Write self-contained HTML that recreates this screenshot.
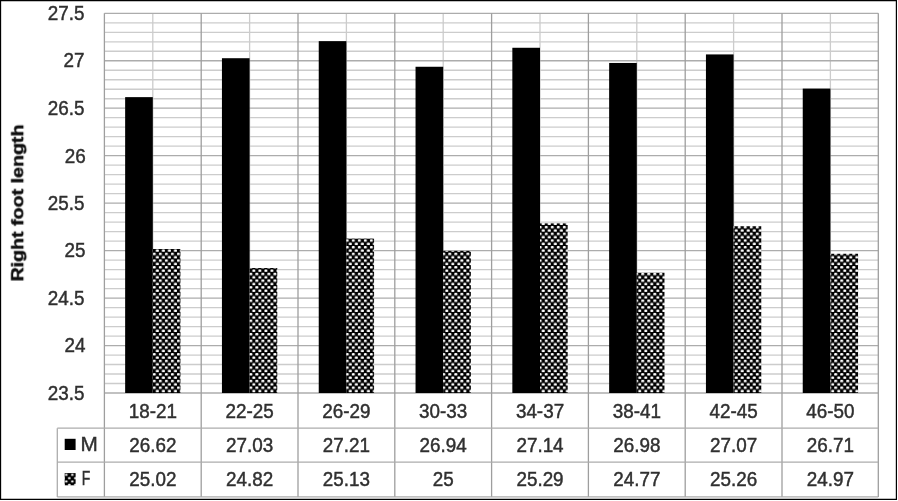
<!DOCTYPE html>
<html lang="en">
<head>
<meta charset="utf-8">
<title>Right foot length by age group</title>
<style>
html,body{margin:0;padding:0;background:#fff;}
body{width:898px;height:501px;overflow:hidden;}
svg{display:block;}
text{font-family:"Liberation Sans",sans-serif;fill:#303030;stroke:#303030;stroke-width:0.45px;}
</style>
</head>
<body>
<svg width="898" height="501" viewBox="0 0 898 501">
<defs>
<pattern id="dots" patternUnits="userSpaceOnUse" x="152.80" y="386.50" width="6.03" height="6.69">
<rect width="6.03" height="6.69" fill="#000"/>
<rect x="0.00" y="0.10" width="3.00" height="2.30" rx="0.9" ry="0.8" fill="#fff"/>
<rect x="3.015" y="3.445" width="3.00" height="2.30" rx="0.9" ry="0.8" fill="#fff"/>
</pattern>
<pattern id="dotsL" patternUnits="userSpaceOnUse" x="64.80" y="473.60" width="6.03" height="6.69">
<rect width="6.03" height="6.69" fill="#000"/>
<rect x="0.20" y="0.25" width="2.60" height="2.00" rx="0.9" ry="0.8" fill="#fff"/>
<rect x="3.215" y="3.595" width="2.60" height="2.00" rx="0.9" ry="0.8" fill="#fff"/>
</pattern>
<filter id="soft" x="0" y="0" width="898" height="501" filterUnits="userSpaceOnUse"><feGaussianBlur stdDeviation="0.5"/></filter>
</defs>
<rect x="0" y="0" width="898" height="501" fill="#fff"/>
<path d="M0 0H897V499.9H0Z M1.15 1.15V498.75H895.8V1.15Z" fill="#000" fill-rule="evenodd"/>
<g filter="url(#soft)">
<g stroke="#cccccc" stroke-width="1.3" fill="none">
<line x1="104.40" y1="22.79" x2="878.30" y2="22.79"/>
<line x1="104.40" y1="32.28" x2="878.30" y2="32.28"/>
<line x1="104.40" y1="41.78" x2="878.30" y2="41.78"/>
<line x1="104.40" y1="51.27" x2="878.30" y2="51.27"/>
<line x1="104.40" y1="70.25" x2="878.30" y2="70.25"/>
<line x1="104.40" y1="79.75" x2="878.30" y2="79.75"/>
<line x1="104.40" y1="89.24" x2="878.30" y2="89.24"/>
<line x1="104.40" y1="98.73" x2="878.30" y2="98.73"/>
<line x1="104.40" y1="117.72" x2="878.30" y2="117.72"/>
<line x1="104.40" y1="127.21" x2="878.30" y2="127.21"/>
<line x1="104.40" y1="136.70" x2="878.30" y2="136.70"/>
<line x1="104.40" y1="146.20" x2="878.30" y2="146.20"/>
<line x1="104.40" y1="165.18" x2="878.30" y2="165.18"/>
<line x1="104.40" y1="174.67" x2="878.30" y2="174.67"/>
<line x1="104.40" y1="184.16" x2="878.30" y2="184.16"/>
<line x1="104.40" y1="193.66" x2="878.30" y2="193.66"/>
<line x1="104.40" y1="212.64" x2="878.30" y2="212.64"/>
<line x1="104.40" y1="222.13" x2="878.30" y2="222.13"/>
<line x1="104.40" y1="231.63" x2="878.30" y2="231.63"/>
<line x1="104.40" y1="241.12" x2="878.30" y2="241.12"/>
<line x1="104.40" y1="260.10" x2="878.30" y2="260.10"/>
<line x1="104.40" y1="269.60" x2="878.30" y2="269.60"/>
<line x1="104.40" y1="279.09" x2="878.30" y2="279.09"/>
<line x1="104.40" y1="288.58" x2="878.30" y2="288.58"/>
<line x1="104.40" y1="307.57" x2="878.30" y2="307.57"/>
<line x1="104.40" y1="317.06" x2="878.30" y2="317.06"/>
<line x1="104.40" y1="326.55" x2="878.30" y2="326.55"/>
<line x1="104.40" y1="336.05" x2="878.30" y2="336.05"/>
<line x1="104.40" y1="355.03" x2="878.30" y2="355.03"/>
<line x1="104.40" y1="364.52" x2="878.30" y2="364.52"/>
<line x1="104.40" y1="374.02" x2="878.30" y2="374.02"/>
<line x1="104.40" y1="383.51" x2="878.30" y2="383.51"/>
<line x1="152.80" y1="13.30" x2="152.80" y2="393.00"/>
<line x1="249.60" y1="13.30" x2="249.60" y2="393.00"/>
<line x1="346.40" y1="13.30" x2="346.40" y2="393.00"/>
<line x1="443.20" y1="13.30" x2="443.20" y2="393.00"/>
<line x1="540.00" y1="13.30" x2="540.00" y2="393.00"/>
<line x1="636.80" y1="13.30" x2="636.80" y2="393.00"/>
<line x1="733.60" y1="13.30" x2="733.60" y2="393.00"/>
<line x1="830.40" y1="13.30" x2="830.40" y2="393.00"/>
</g>
<g stroke="#acacac" stroke-width="1.3" fill="none">
<line x1="104.40" y1="13.30" x2="878.30" y2="13.30"/>
<line x1="104.40" y1="60.76" x2="878.30" y2="60.76"/>
<line x1="104.40" y1="108.22" x2="878.30" y2="108.22"/>
<line x1="104.40" y1="155.69" x2="878.30" y2="155.69"/>
<line x1="104.40" y1="203.15" x2="878.30" y2="203.15"/>
<line x1="104.40" y1="250.61" x2="878.30" y2="250.61"/>
<line x1="104.40" y1="298.07" x2="878.30" y2="298.07"/>
<line x1="104.40" y1="345.54" x2="878.30" y2="345.54"/>
<line x1="104.40" y1="393.00" x2="878.30" y2="393.00"/>
<line x1="104.40" y1="13.30" x2="104.40" y2="496.90" stroke="#9e9e9e"/>
<line x1="201.20" y1="13.30" x2="201.20" y2="496.90" stroke="#9e9e9e"/>
<line x1="298.00" y1="13.30" x2="298.00" y2="496.90" stroke="#9e9e9e"/>
<line x1="394.80" y1="13.30" x2="394.80" y2="496.90" stroke="#9e9e9e"/>
<line x1="491.60" y1="13.30" x2="491.60" y2="496.90" stroke="#9e9e9e"/>
<line x1="588.40" y1="13.30" x2="588.40" y2="496.90" stroke="#9e9e9e"/>
<line x1="685.20" y1="13.30" x2="685.20" y2="496.90" stroke="#9e9e9e"/>
<line x1="782.00" y1="13.30" x2="782.00" y2="496.90" stroke="#9e9e9e"/>
<line x1="878.30" y1="13.30" x2="878.30" y2="496.90" stroke="#9e9e9e"/>
<line x1="57.30" y1="428.20" x2="878.30" y2="428.20"/>
<line x1="57.30" y1="462.20" x2="878.30" y2="462.20"/>
<line x1="57.30" y1="496.90" x2="878.30" y2="496.90"/>
<line x1="57.30" y1="428.20" x2="57.30" y2="496.90"/>
</g>
<g>
<rect x="125.14" y="97.13" width="27.66" height="295.87" fill="#000"/>
<rect x="152.80" y="249.01" width="27.66" height="143.99" fill="url(#dots)"/>
<rect x="221.94" y="58.21" width="27.66" height="334.79" fill="#000"/>
<rect x="249.60" y="268.00" width="27.66" height="125.00" fill="url(#dots)"/>
<rect x="318.74" y="41.13" width="27.66" height="351.87" fill="#000"/>
<rect x="346.40" y="238.57" width="27.66" height="154.43" fill="url(#dots)"/>
<rect x="415.54" y="66.76" width="27.66" height="326.24" fill="#000"/>
<rect x="443.20" y="250.91" width="27.66" height="142.09" fill="url(#dots)"/>
<rect x="512.34" y="47.77" width="27.66" height="345.23" fill="#000"/>
<rect x="540.00" y="223.38" width="27.66" height="169.62" fill="url(#dots)"/>
<rect x="609.14" y="62.96" width="27.66" height="330.04" fill="#000"/>
<rect x="636.80" y="272.75" width="27.66" height="120.25" fill="url(#dots)"/>
<rect x="705.94" y="54.42" width="27.66" height="338.58" fill="#000"/>
<rect x="733.60" y="226.23" width="27.66" height="166.77" fill="url(#dots)"/>
<rect x="802.74" y="88.59" width="27.66" height="304.41" fill="#000"/>
<rect x="830.40" y="253.76" width="27.66" height="139.24" fill="url(#dots)"/>
</g>
<g font-size="19.4">
<text transform="translate(84.40,20.10) scale(0.972,1)" text-anchor="end">27.5</text>
<text transform="translate(84.40,67.16) scale(0.972,1)" text-anchor="end">27</text>
<text transform="translate(84.40,115.02) scale(0.972,1)" text-anchor="end">26.5</text>
<text transform="translate(85.70,162.99) scale(0.972,1)" text-anchor="end">26</text>
<text transform="translate(84.40,209.95) scale(0.972,1)" text-anchor="end">25.5</text>
<text transform="translate(85.40,257.41) scale(0.972,1)" text-anchor="end">25</text>
<text transform="translate(84.40,304.88) scale(0.972,1)" text-anchor="end">24.5</text>
<text transform="translate(85.40,352.04) scale(0.972,1)" text-anchor="end">24</text>
<text transform="translate(84.40,399.80) scale(0.972,1)" text-anchor="end">23.5</text>
</g>
<g font-size="19.4">
<text transform="translate(152.80,417.60) scale(0.972,1)" text-anchor="middle">18-21</text>
<text transform="translate(152.80,451.70) scale(0.972,1)" text-anchor="middle">26.62</text>
<text transform="translate(152.80,486.20) scale(0.972,1)" text-anchor="middle">25.02</text>
<text transform="translate(249.60,417.60) scale(0.972,1)" text-anchor="middle">22-25</text>
<text transform="translate(249.60,451.70) scale(0.972,1)" text-anchor="middle">27.03</text>
<text transform="translate(249.60,486.20) scale(0.972,1)" text-anchor="middle">24.82</text>
<text transform="translate(346.40,417.60) scale(0.972,1)" text-anchor="middle">26-29</text>
<text transform="translate(346.40,451.70) scale(0.972,1)" text-anchor="middle">27.21</text>
<text transform="translate(346.40,486.20) scale(0.972,1)" text-anchor="middle">25.13</text>
<text transform="translate(443.20,417.60) scale(0.972,1)" text-anchor="middle">30-33</text>
<text transform="translate(443.20,451.70) scale(0.972,1)" text-anchor="middle">26.94</text>
<text transform="translate(443.20,486.20) scale(0.972,1)" text-anchor="middle">25</text>
<text transform="translate(540.00,417.60) scale(0.972,1)" text-anchor="middle">34-37</text>
<text transform="translate(540.00,451.70) scale(0.972,1)" text-anchor="middle">27.14</text>
<text transform="translate(540.00,486.20) scale(0.972,1)" text-anchor="middle">25.29</text>
<text transform="translate(636.80,417.60) scale(0.972,1)" text-anchor="middle">38-41</text>
<text transform="translate(636.80,451.70) scale(0.972,1)" text-anchor="middle">26.98</text>
<text transform="translate(636.80,486.20) scale(0.972,1)" text-anchor="middle">24.77</text>
<text transform="translate(733.60,417.60) scale(0.972,1)" text-anchor="middle">42-45</text>
<text transform="translate(733.60,451.70) scale(0.972,1)" text-anchor="middle">27.07</text>
<text transform="translate(733.60,486.20) scale(0.972,1)" text-anchor="middle">25.26</text>
<text transform="translate(830.40,417.60) scale(0.972,1)" text-anchor="middle">46-50</text>
<text transform="translate(830.40,451.70) scale(0.972,1)" text-anchor="middle">26.71</text>
<text transform="translate(830.40,486.20) scale(0.972,1)" text-anchor="middle">24.97</text>
</g>
<rect x="64.7" y="438.8" width="10.9" height="11.2" fill="#000"/>
<rect x="64.7" y="473.1" width="10.9" height="12.2" fill="url(#dotsL)"/>
<g font-size="19.4">
<text transform="translate(80.60,450.80) scale(1.070,1)" text-anchor="start">M</text>
<text transform="translate(81.70,485.20) scale(0.720,1)" text-anchor="start">F</text>
</g>
<text transform="translate(23.2,203) rotate(-90) scale(1.19,1)" text-anchor="middle" font-size="16.5" font-weight="bold" style="fill:#111;stroke:#111">Right foot length</text>
</g>
</svg>
</body>
</html>
